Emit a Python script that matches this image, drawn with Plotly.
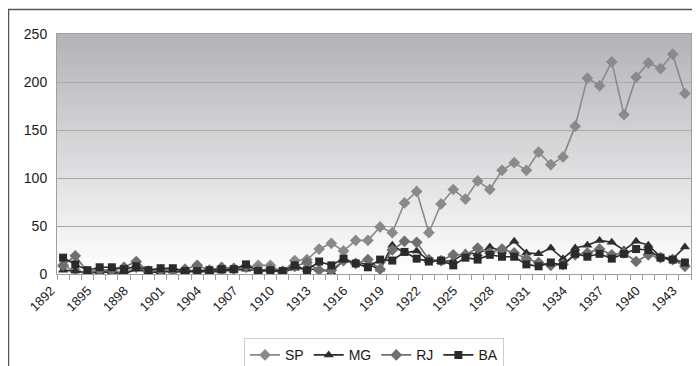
import plotly.graph_objects as go

years = list(range(1892, 1944))

sp = [8, 4, 1, 3, 3, 2, 7, 2, 3, 3, 2, 4, 3, 4, 5, 7, 9, 9, 2, 14,
      15, 26, 32, 24, 35, 35, 49, 43, 74, 86, 43, 73, 88, 78, 97, 88, 108, 116, 108, 127,
      114, 122, 154, 204, 196, 221, 166, 205, 220, 214, 229, 188]
mg = [4, 3, 1, 2, 2, 0, 5, 2, 2, 3, 2, 3, 2, 3, 4, 5, 3, 4, 2, 6,
      5, 5, 2, 14, 12, 10, 5, 30, 22, 24, 14, 13, 14, 22, 21, 28, 24, 34, 22, 21,
      27, 16, 27, 30, 35, 33, 25, 34, 30, 18, 16, 28]
rj = [9, 19, 2, 4, 4, 7, 13, 3, 4, 4, 5, 9, 4, 7, 6, 8, 4, 5, 3, 8,
      12, 4, 4, 14, 11, 15, 5, 25, 34, 33, 15, 14, 20, 20, 27, 22, 26, 22, 16, 12,
      9, 10, 20, 22, 26, 20, 22, 13, 20, 17, 15, 8]
ba = [17, 10, 4, 7, 7, 5, 8, 4, 6, 6, 3, 3, 4, 5, 5, 10, 3, 4, 3, 9,
      4, 13, 9, 16, 11, 7, 15, 14, 23, 16, 13, 14, 9, 17, 15, 20, 18, 18, 10, 8,
      12, 9, 21, 18, 21, 16, 21, 26, 25, 17, 15, 12]

tick_years = list(range(1892, 1944, 3))
y_ticks = [0, 50, 100, 150, 200, 250]

series = [
    ("SP", sp, "diamond", "#8a8a8a", 9),
    ("MG", mg, "triangle-up", "#2e2e2e", 9),
    ("RJ", rj, "diamond", "#6f6f6f", 9),
    ("BA", ba, "square", "#2a2a2a", 8),
]

fig = go.Figure()
for name, vals, sym, col, sz in series:
    fig.add_trace(go.Scatter(
        x=years, y=vals, name=name, mode="lines+markers",
        line=dict(color=col, width=1.6),
        marker=dict(symbol=sym, size=sz, color=col),
    ))

# gradient background bands
shapes = []
n = 60
top = (178, 179, 183)
for i in range(n):
    t = (i + 0.5) / n
    c = tuple(int(round(255 - t * (255 - v))) for v in top)
    shapes.append(dict(type="rect", xref="paper", yref="paper",
                       x0=0, x1=1, y0=i / n, y1=(i + 1) / n,
                       fillcolor="rgb(%d,%d,%d)" % c, line=dict(width=0),
                       layer="below"))
# outer chart frame
shapes.append(dict(type="rect", xref="paper", yref="paper",
                   x0=-0.0765, x1=1.08, y0=-0.6, y1=1.102,
                   line=dict(color="#555555", width=1.5),
                   fillcolor="rgba(0,0,0,0)", layer="above"))

fig.update_layout(
    width=700, height=366,
    margin=dict(l=49, r=17, t=26, b=100, autoexpand=False),
    paper_bgcolor="white", plot_bgcolor="white",
    font=dict(family="Liberation Sans, Arial, sans-serif", size=14, color="#1a1a1a"),
    shapes=shapes,
    showlegend=True,
    legend=dict(orientation="h", x=0.5, xanchor="center", y=-0.268, yanchor="top",
                bordercolor="#cccccc", borderwidth=1, bgcolor="white",
                font=dict(size=14), itemwidth=30, tracegroupgap=0),
    xaxis=dict(range=[1891.5, 1943.5], tickvals=tick_years,
               ticktext=[str(v) for v in tick_years], tickangle=-45,
               tickfont=dict(size=13), ticks="", showgrid=False, automargin=False,
               showline=True, linecolor="#a0a0a0", linewidth=1, mirror=True,
               minor=dict(tick0=1891.5, dtick=1, ticks="outside", ticklen=5,
                          tickcolor="#a0a0a0", showgrid=False),
               zeroline=False, ticklabelstandoff=3, ticklabelshift=-12),
    yaxis=dict(range=[0, 250], tickvals=y_ticks, showgrid=True, automargin=False,
               gridcolor="#a8a8a8", gridwidth=1, ticks="",
               showline=True, linecolor="#a0a0a0", linewidth=1, mirror=True,
               zeroline=False, tickfont=dict(size=14), ticklabelstandoff=6),
)

fig.write_html("out.html")
